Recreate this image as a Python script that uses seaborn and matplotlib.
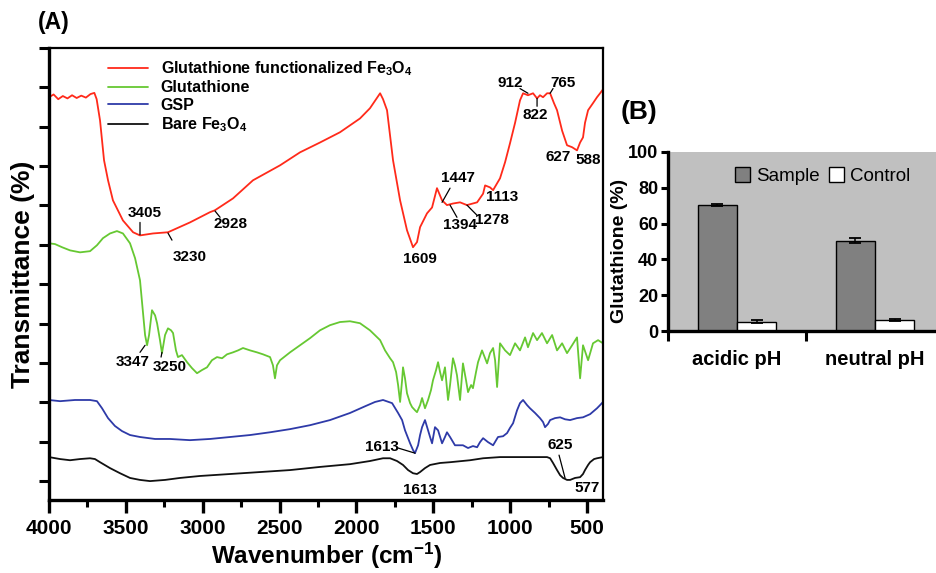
import numpy as np
import pandas as pd
import matplotlib
matplotlib.use("Agg")
import matplotlib.pyplot as plt
import seaborn as sns

# ---------------- data: panel A (FTIR spectra, wavenumber in cm-1, transmittance a.u.)
red_wn = [4000, 3970, 3940, 3910, 3880, 3850, 3820, 3790, 3760, 3730, 3705, 3690, 3668, 3642, 3616,
          3584, 3519, 3453, 3408, 3323, 3226, 3083, 2953, 2920, 2803, 2673, 2497, 2367, 2237, 2107,
          1977, 1912, 1846, 1827, 1801, 1762, 1716, 1671, 1632, 1606, 1586, 1541, 1508, 1476, 1443,
          1411, 1372, 1326, 1281, 1215, 1176, 1163, 1131, 1111, 1066, 1033, 1001, 968, 936, 916,
          884, 851, 825, 806, 786, 760, 740, 715, 695, 662, 630, 597, 565, 545, 526, 513, 493, 461,
          435, 415, 396]
red_t = [97.5, 98.2, 97.0, 97.8, 97.2, 98.0, 97.3, 97.9, 97.4, 98.3, 98.6, 97.0, 91.6, 81.5, 76.4,
         71.3, 66.2, 63.2, 62.4, 62.9, 63.2, 65.7, 68.3, 68.8, 71.8, 76.4, 80.2, 83.5, 86.0, 88.6,
         92.1, 94.7, 98.5, 97.0, 94.2, 81.5, 71.3, 63.7, 59.4, 60.7, 64.5, 68.0, 69.5, 74.4, 71.3,
         70.1, 70.5, 70.8, 70.1, 70.8, 73.0, 75.1, 74.6, 73.9, 76.9, 81.0, 85.8, 91.0, 96.7, 98.5,
         98.0, 98.5, 97.2, 98.0, 97.5, 98.5, 98.5, 96.0, 94.2, 89.0, 85.3, 84.8, 84.0, 86.0, 87.3,
         91.0, 94.2, 96.0, 97.5, 98.5, 99.5]

green_wn = [4000, 3961, 3915, 3863, 3798, 3733, 3688, 3649, 3603, 3558, 3519, 3473, 3440, 3408, 3388,
            3375, 3362, 3349, 3330, 3310, 3297, 3278, 3265, 3245, 3226, 3206, 3193, 3174, 3161, 3135,
            3102, 3070, 3037, 3005, 2972, 2940, 2907, 2874, 2842, 2803, 2770, 2738, 2692, 2647, 2608,
            2562, 2543, 2530, 2517, 2497, 2432, 2367, 2302, 2237, 2172, 2107, 2042, 1977, 1912, 1846,
            1814, 1781, 1762, 1742, 1729, 1716, 1703, 1697, 1684, 1671, 1651, 1638, 1619, 1606, 1586,
            1573, 1554, 1534, 1515, 1502, 1482, 1469, 1456, 1443, 1424, 1404, 1391, 1372, 1359, 1346,
            1326, 1307, 1287, 1274, 1254, 1242, 1222, 1209, 1183, 1163, 1150, 1131, 1111, 1098, 1085,
            1066, 1033, 1001, 968, 936, 903, 884, 851, 825, 793, 760, 727, 695, 662, 630, 597, 565,
            545, 526, 493, 461, 428, 396]
green_t = [60.4, 60.2, 59.4, 58.6, 58.1, 58.4, 59.9, 61.7, 62.9, 63.5, 62.9, 60.4, 56.6, 51.0, 42.6,
           37.1, 34.5, 37.1, 43.4, 42.1, 40.1, 35.8, 32.5, 37.1, 38.8, 38.3, 37.6, 33.2, 31.5, 32.0,
           30.2, 28.7, 27.4, 28.2, 28.9, 30.7, 31.5, 31.2, 32.2, 32.7, 33.2, 33.8, 33.2, 32.7, 32.2,
           31.5, 29.4, 26.1, 29.4, 30.7, 32.7, 34.5, 36.3, 38.3, 39.6, 40.4, 40.6, 40.1, 38.3, 35.8,
           33.2, 31.2, 30.2, 27.7, 24.4, 20.1, 25.6, 28.9, 26.1, 22.3, 19.8, 18.8, 18.0, 17.5, 19.3,
           21.1, 18.5, 20.6, 23.1, 25.6, 28.2, 30.2, 27.7, 25.6, 28.9, 20.6, 24.4, 31.2, 29.4, 26.9,
           20.6, 29.9, 25.6, 22.6, 24.4, 23.6, 27.7, 30.2, 33.2, 31.2, 29.9, 32.5, 33.8, 30.7, 23.9,
           35.0, 33.2, 32.0, 35.0, 33.2, 36.5, 34.0, 37.6, 35.8, 37.6, 35.0, 37.1, 33.2, 35.0, 32.5,
           34.5, 36.5, 26.1, 34.5, 30.7, 35.0, 35.8, 35.0]

blue_wn = [4000, 3928, 3831, 3733, 3688, 3655, 3616, 3571, 3525, 3473, 3408, 3310, 3213, 3083, 2953,
           2822, 2692, 2562, 2432, 2302, 2172, 2042, 1944, 1879, 1827, 1768, 1729, 1703, 1684, 1651,
           1632, 1619, 1599, 1586, 1573, 1554, 1534, 1521, 1508, 1489, 1469, 1443, 1424, 1411, 1391,
           1359, 1326, 1307, 1274, 1242, 1215, 1196, 1176, 1144, 1111, 1079, 1046, 1020, 1001, 981,
           955, 936, 916, 890, 871, 838, 806, 786, 773, 754, 740, 708, 675, 643, 610, 565, 526, 480,
           435, 415, 396]
blue_t = [20.6, 20.3, 20.6, 20.6, 20.3, 18.5, 16.0, 14.0, 12.7, 11.7, 11.2, 10.7, 10.7, 10.4, 10.7,
          11.2, 11.7, 12.4, 13.2, 14.2, 15.5, 17.3, 19.0, 20.1, 20.6, 19.8, 17.3, 15.5, 12.9, 9.6,
          7.9, 7.1, 9.1, 11.7, 13.7, 15.5, 12.9, 11.2, 9.6, 13.7, 12.9, 9.6, 11.2, 12.4, 11.2,
          9.1, 9.1, 9.1, 8.4, 8.9, 8.6, 9.9, 10.9, 9.9, 9.1, 11.2, 11.4, 12.2, 13.5, 14.7,
          18.0, 19.8, 20.6, 19.3, 18.5, 17.3, 16.0, 15.0, 13.7, 14.5, 15.5, 16.0, 16.2, 15.7, 15.5,
          16.0, 16.2, 17.0, 18.5, 19.3, 20.1]

black_wn = [4000, 3928, 3863, 3798, 3733, 3701, 3668, 3603, 3538, 3473, 3408, 3343, 3245, 3148, 3018,
            2822, 2627, 2432, 2237, 2042, 1912, 1827, 1781, 1736, 1697, 1664, 1632, 1606, 1586, 1554,
            1521, 1456, 1391, 1261, 1176, 1066, 955, 838, 760, 740, 721, 695, 675, 656, 630, 610,
            578, 545, 526, 513, 493, 480, 454, 435, 396]
black_t = [6.1, 5.6, 5.3, 5.6, 5.8, 5.6, 4.8, 3.3, 2.0, 0.8, 0.3, 0.0, 0.3, 0.8, 1.3,
           1.8, 2.3, 2.8, 3.6, 4.3, 5.1, 5.8, 5.8, 5.1, 4.1, 2.8, 2.0, 1.8, 2.3, 3.3,
           4.1, 4.6, 4.8, 5.3, 5.8, 6.1, 6.1, 6.1, 6.1, 5.8, 4.6, 2.8, 1.5, 0.8, 0.3, 0.3,
           0.8, 1.0, 1.8, 2.8, 4.1, 4.8, 5.6, 5.8, 6.1]

series_labels = ["Glutathione functionalized Fe$_3$O$_4$", "Glutathione", "GSP", "Bare Fe$_3$O$_4$"]
series_colors = ["#ff2a1a", "#66c832", "#2e3aa8", "#111111"]
x_ticks = [4000, 3500, 3000, 2500, 2000, 1500, 1000, 500]

# ---------------- data: panel B
conditions = ["acidic pH", "neutral pH"]
groups = ["Sample", "Control"]
sample_vals = [70.5, 50.5]
sample_err = [0.6, 1.4]
control_vals = [5.3, 6.2]
control_err = [0.6, 0.5]
b_ticks = [0, 20, 40, 60, 80, 100]

# ---------------- style
sns.set_theme(style="ticks")
plt.rcParams['font.family'] = ['Liberation Sans', 'DejaVu Sans']
plt.rcParams['mathtext.fontset'] = 'custom'
plt.rcParams['mathtext.rm'] = 'Liberation Sans'
plt.rcParams['mathtext.bf'] = 'Liberation Sans:bold'
plt.rcParams['mathtext.it'] = 'Liberation Sans:italic'
plt.rcParams['mathtext.default'] = 'bf'
for k in ['text.color', 'axes.labelcolor', 'xtick.color', 'ytick.color', 'axes.edgecolor']:
    plt.rcParams[k] = 'black'

fig = plt.figure(figsize=(9.36, 5.73), dpi=100)

# ================= Panel A
axA = fig.add_axes([49/936, 1-500/573, 554/936, 452/573])
spectra = [(red_wn, red_t), (green_wn, green_t), (blue_wn, blue_t), (black_wn, black_t)]
for (wn, t), lab, col in zip(spectra, series_labels, series_colors):
    sns.lineplot(x=wn, y=t, ax=axA, color=col, lw=1.3, label=lab, estimator=None)

axA.set_xlim(4000, 396)
axA.set_ylim(-4.8, 110)
axA.set_xticks(x_ticks, [str(v) for v in x_ticks], fontsize=15, fontweight='bold')
axA.set_xticks([v - 250 for v in x_ticks[:-1]], minor=True)
axA.set_yticks(np.arange(0, 111, 10))
axA.tick_params(axis='y', labelleft=False, length=7, width=2.2, direction='out')
axA.tick_params(axis='x', which='major', length=9, width=2.4, direction='out', pad=5)
axA.tick_params(axis='x', which='minor', length=5, width=2.2, direction='out')
for s in ['left', 'bottom']:
    axA.spines[s].set_linewidth(2.4)
for s in ['top', 'right']:
    axA.spines[s].set_linewidth(1.6)

axA.set_xlabel("Wavenumber (cm$^{-1}$)", fontsize=17.5, fontweight='bold')
axA.xaxis.set_label_coords(0.502, -0.09)
axA.set_ylabel("Transmittance (%)", fontsize=19, fontweight='bold')
axA.yaxis.set_label_coords(-0.026, 0.5)

axA.legend(loc='upper left', bbox_to_anchor=(0.1065, 0.975), frameon=False,
           prop=dict(weight='bold', size=11.5), handlelength=2.5, labelspacing=0.15,
           handletextpad=0.8, borderpad=0, borderaxespad=0)

peak_labels = [
    ("3405", (3375, 68.0), [(3408, 65.7), (3408, 62.6)]),
    ("3230", (3083, 56.9), [(3226, 63.0), (3200, 61.2)]),
    ("2928", (2822, 65.2), [(2920, 68.6), (2887, 67.0)]),
    ("1609", (1586, 56.4), None),
    ("1447", (1339, 76.9), [(1391, 74.4), (1443, 70.8)]),
    ("1394", (1326, 65.0), [(1346, 67.0), (1391, 70.1)]),
    ("1278", (1118, 66.2), [(1215, 67.5), (1281, 70.1)]),
    ("1113", (1053, 72.1), None),
    ("912", (1001, 101.0), [(936, 99.7), (884, 98.5)]),
    ("822", (838, 92.9), [(825, 95.2), (825, 97.2)]),
    ("765", (656, 101.0), [(721, 99.7), (740, 98.5)]),
    ("627", (688, 82.2), None),
    ("588", (493, 81.5), None),
    ("3347", (3453, 30.2), [(3408, 32.7), (3375, 34.5)]),
    ("3250", (3213, 28.9), [(3271, 31.5), (3265, 32.7)]),
    ("1613", (1834, 8.6), [(1729, 8.4), (1619, 7.1)]),
    ("1613", (1586, -2.3), None),
    ("625", (675, 9.1), [(682, 6.6), (643, 0.8)]),
    ("577", (500, -1.8), None),
]
for txt, pos, line in peak_labels:
    axA.text(pos[0], pos[1], txt, ha='center', va='center', fontsize=11, fontweight='bold')
    if line is not None:
        axA.annotate('', xy=line[1], xytext=line[0],
                     arrowprops=dict(arrowstyle='-', lw=0.9, color='black', shrinkA=0, shrinkB=0))

fig.text(38/936, 1-22/573, "(A)", ha='left', va='center', fontsize=16.5, fontweight='bold')

# ================= Panel B
df = pd.DataFrame({
    "condition": conditions * 2,
    "group": [groups[0]] * 2 + [groups[1]] * 2,
    "value": sample_vals + control_vals,
})
axB = fig.add_axes([668/936, 1-331/573, 276/936, 179/573])
axB.set_facecolor('#c0c0c0')
sns.barplot(data=df, x='condition', y='value', hue='group', hue_order=groups,
            palette={'Sample': '#808080', 'Control': '#ffffff'}, width=0.57,
            edgecolor='black', linewidth=1.0, errorbar=None, saturation=1, ax=axB)
for cont, err in zip(axB.containers, [sample_err, control_err]):
    xs = [p.get_x() + p.get_width() / 2 for p in cont]
    hs = [p.get_height() for p in cont]
    axB.errorbar(xs, hs, yerr=err, fmt='none', ecolor='black', elinewidth=1.1,
                 capsize=4, capthick=1.3, zorder=5)

axB.set_xlim(-0.5, 1.5)
axB.set_ylim(0, 100)
axB.set_yticks(b_ticks, [str(v) for v in b_ticks], fontsize=13, fontweight='bold')
axB.set_xticks([0, 1], conditions, fontsize=14.5, fontweight='bold')
axB.set_xticks([-0.5, 0.5], minor=True)
axB.tick_params(axis='x', which='major', length=0, pad=14)
axB.tick_params(axis='x', which='minor', length=7, width=2.2, direction='out')
axB.tick_params(axis='y', length=5, width=2.2, direction='out', pad=2)
axB.spines['top'].set_visible(False)
axB.spines['right'].set_visible(False)
axB.spines['left'].set_linewidth(2.4)
axB.spines['bottom'].set_linewidth(2.4)
axB.set_xlabel('')
axB.set_ylabel("Glutathione (%)", fontsize=14, fontweight='bold')
axB.yaxis.set_label_coords(-0.145, 0.45)
axB.legend(loc='upper center', bbox_to_anchor=(0.56, 0.915), ncol=2, frameon=False,
           fontsize=13.5, handlelength=0.8, handleheight=0.8, handletextpad=0.3,
           columnspacing=0.5, borderpad=0, borderaxespad=0)

fig.text(621/936, 1-112/573, "(B)", ha='left', va='center', fontsize=19, fontweight='bold')

fig.savefig("out.png", dpi=100)
